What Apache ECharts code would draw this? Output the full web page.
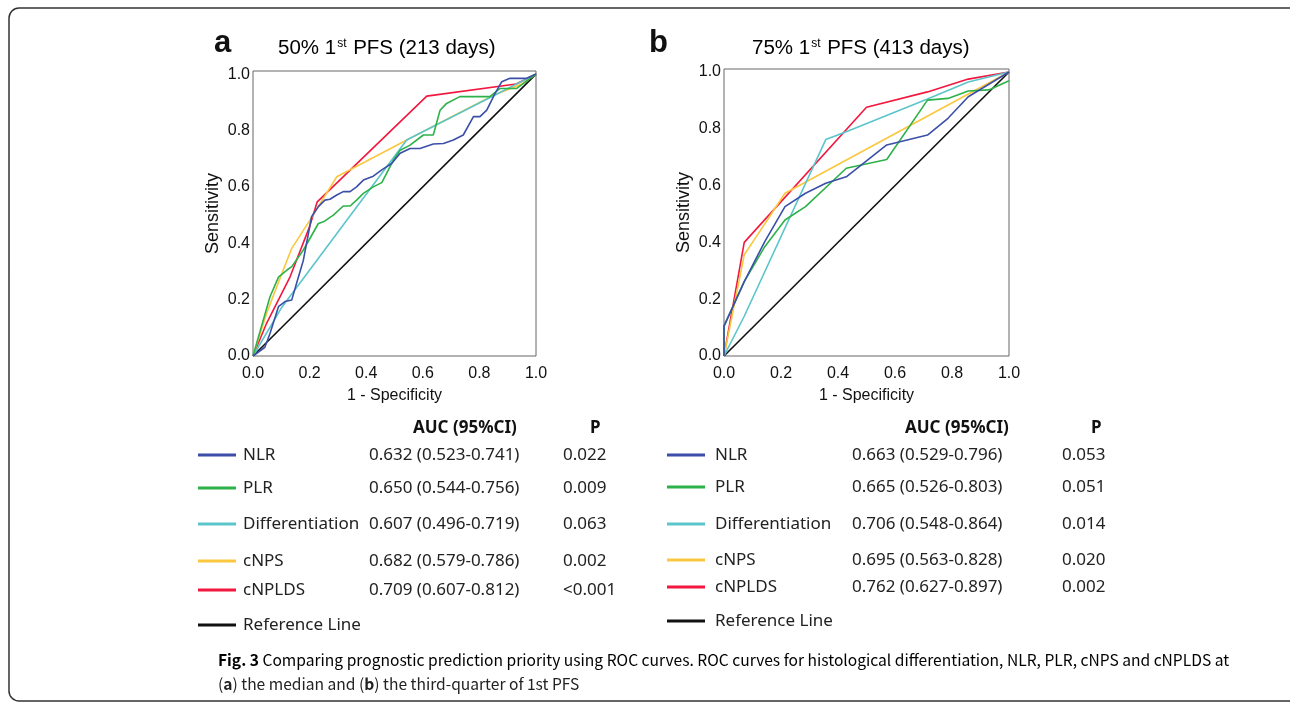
<!DOCTYPE html>
<html><head><meta charset="utf-8">
<script src="https://cdn.jsdelivr.net/npm/echarts@6/dist/echarts.min.js"></script>
<style>html,body{margin:0;padding:0;background:#fff}#c{width:1290px;height:702px}</style>
</head><body><div id="c"></div>
<script>
// ---------- data ----------
const seriesNames = ['NLR', 'PLR', 'Differentiation', 'cNPS', 'cNPLDS', 'Reference Line'];
const seriesColors = ['#3B4FA8', '#2DB24A', '#5BC5CB', '#FAC73E', '#F2173F', '#111111'];
const axisTicks = [0, 0.2, 0.4, 0.6, 0.8, 1.0];

// Panel a: 50% 1st PFS (213 days)
const aNLR = [[0,0],[0.042,0.031],[0.06,0.08],[0.09,0.175],[0.113,0.193],[0.137,0.199],[0.154,0.258],[0.178,0.34],[0.207,0.494],[0.231,0.53],[0.254,0.553],[0.272,0.556],[0.296,0.571],[0.319,0.583],[0.343,0.583],[0.366,0.6],[0.39,0.624],[0.425,0.638],[0.455,0.66],[0.49,0.683],[0.52,0.719],[0.555,0.736],[0.59,0.736],[0.637,0.752],[0.673,0.754],[0.708,0.766],[0.743,0.784],[0.779,0.849],[0.802,0.849],[0.826,0.872],[0.855,0.931],[0.879,0.973],[0.908,0.985],[0.967,0.985],[1,1]];
const aPLR = [[0,0],[0.06,0.21],[0.09,0.28],[0.12,0.305],[0.137,0.317],[0.178,0.376],[0.231,0.47],[0.249,0.476],[0.284,0.5],[0.319,0.532],[0.343,0.532],[0.366,0.553],[0.39,0.577],[0.425,0.6],[0.455,0.615],[0.472,0.648],[0.496,0.695],[0.52,0.73],[0.555,0.748],[0.602,0.784],[0.637,0.784],[0.661,0.872],[0.684,0.896],[0.731,0.92],[0.837,0.92],[0.873,0.949],[0.932,0.949],[1,1]];
const aDiff = [[0,0],[0.1,0.17],[0.543,0.766],[0.85,0.923],[1,1]];
const aNPS = [[0,0],[0.048,0.151],[0.084,0.246],[0.137,0.382],[0.2,0.48],[0.296,0.636],[0.55,0.77],[0.85,0.925],[0.95,0.965],[1,1]];
const aNPLDS = [[0,0],[0.048,0.116],[0.131,0.281],[0.2,0.459],[0.227,0.547],[0.614,0.922],[0.93,0.965],[1,1]];
const aRef = [[0,0],[1,1]];

// Panel b: 75% 1st PFS (413 days)
const bNLR = [[0,0],[0,0.105],[0.071,0.262],[0.143,0.403],[0.214,0.526],[0.286,0.573],[0.357,0.608],[0.429,0.631],[0.571,0.743],[0.714,0.778],[0.786,0.837],[0.857,0.913],[1,1]];
const bPLR = [[0,0],[0,0.105],[0.071,0.262],[0.143,0.385],[0.214,0.479],[0.286,0.526],[0.429,0.661],[0.571,0.692],[0.714,0.901],[0.786,0.907],[0.857,0.933],[0.929,0.937],[1,0.969]];
const bDiff = [[0,0],[0.071,0.14],[0.357,0.762],[0.429,0.79],[0.714,0.905],[0.857,0.965],[1,1]];
const bNPS = [[0,0],[0.071,0.356],[0.214,0.573],[1,1]];
const bNPLDS = [[0,0],[0.071,0.4],[0.5,0.876],[0.714,0.93],[0.857,0.975],[1,1]];
const bRef = [[0,0],[1,1]];

// table text
const aucA = ['0.632 (0.523-0.741)', '0.650 (0.544-0.756)', '0.607 (0.496-0.719)', '0.682 (0.579-0.786)', '0.709 (0.607-0.812)'];
const pA = ['0.022', '0.009', '0.063', '0.002', '<0.001'];
const aucB = ['0.663 (0.529-0.796)', '0.665 (0.526-0.803)', '0.706 (0.548-0.864)', '0.695 (0.563-0.828)', '0.762 (0.627-0.897)'];
const pB = ['0.053', '0.051', '0.014', '0.020', '0.002'];
const panelTitles = ['50% 1', ' PFS (213 days)', '75% 1', ' PFS (413 days)'];
const captionBold = 'Fig. 3';
const captionLine1 = ' Comparing prognostic prediction priority using ROC curves. ROC curves for histological differentiation, NLR, PLR, cNPS and cNPLDS at';

// ---------- chart ----------
const chart = echarts.init(document.getElementById('c'), null, {renderer: 'canvas'});
const axisFont = 'Liberation Sans, Arial, sans-serif';
const tableFont = 'Noto Sans, sans-serif';

function xAxisCfg(gi) {
  return {
    type: 'value', gridIndex: gi, min: 0, max: 1, interval: 0.2,
    axisLine: {show: false}, axisTick: {show: false}, splitLine: {show: false},
    axisLabel: {fontFamily: axisFont, fontSize: 16, color: '#111', margin: 10,
      formatter: v => v.toFixed(1)},
    name: '1 - Specificity', nameLocation: 'middle', nameGap: 32,
    nameTextStyle: {fontFamily: axisFont, fontSize: 16, color: '#111'}
  };
}
function yAxisCfg(gi, max) {
  return {
    type: 'value', gridIndex: gi, min: 0, max: max, interval: 0.2,
    axisLine: {show: false}, axisTick: {show: false}, splitLine: {show: false},
    axisLabel: {fontFamily: axisFont, fontSize: 16, color: '#111', margin: 3,
      formatter: v => axisTicks.some(t => Math.abs(t - v) < 1e-6) ? v.toFixed(1) : ''},
    name: 'Sensitivity', nameLocation: 'middle', nameGap: 31,
    nameTextStyle: {fontFamily: axisFont, fontSize: 18, color: '#111'}
  };
}

const panelA = [aNLR, aPLR, aDiff, aNPS, aNPLDS, aRef];
const panelB = [bNLR, bPLR, bDiff, bNPS, bNPLDS, bRef];
const series = [];
[panelA, panelB].forEach((panel, gi) => {
  panel.forEach((d, i) => {
    series.push({
      type: 'line', xAxisIndex: gi, yAxisIndex: gi, data: d, name: seriesNames[i],
      showSymbol: false, symbol: 'none', silent: true, animation: false,
      lineStyle: {color: seriesColors[i], width: 1.6}, z: 10 - i
    });
  });
});

// graphics: frame, titles, tables, caption
const g = [];
g.push({type: 'rect', shape: {x: 9, y: 8, width: 1290, height: 693, r: 10},
  style: {fill: 'none', stroke: '#333', lineWidth: 1.5}, silent: true});

function title(letter, lx, tx, t1, t2) {
  g.push({type: 'text', x: lx, y: 43, style: {text: letter, font: 'bold 31px Liberation Sans, Arial', fill: '#111', textVerticalAlign: 'middle'}});
  g.push({type: 'text', x: tx, y: 48, style: {
    text: '{n|' + t1 + '}{s|st}{n|' + t2 + '}', textVerticalAlign: 'middle',
    rich: {n: {fontFamily: axisFont, fontSize: 20.5, color: '#111'},
           s: {fontFamily: axisFont, fontSize: 12, color: '#111', padding: [0, 1, 9, 1]}}
  }});
}
title('a', 214, 278, panelTitles[0], panelTitles[1]);
title('b', 649, 752, panelTitles[2], panelTitles[3]);

function table(cfg) {
  g.push({type: 'text', x: cfg.aucHeadX, y: 428, style: {text: 'AUC (95%CI)', font: 'bold 17px ' + tableFont, fill: '#111', textVerticalAlign: 'middle'}});
  g.push({type: 'text', x: cfg.pHeadX, y: 428, style: {text: 'P', font: 'bold 17px ' + tableFont, fill: '#111', textVerticalAlign: 'middle'}});
  seriesNames.forEach((nm, i) => {
    const y = cfg.rows[i];
    g.push({type: 'line', shape: {x1: cfg.lineX, y1: y, x2: cfg.lineX + 38, y2: y},
      style: {stroke: seriesColors[i], lineWidth: 3}});
    g.push({type: 'text', x: cfg.labelX, y: y, style: {text: nm, font: '17px ' + tableFont, fill: '#222', textVerticalAlign: 'middle'}});
    if (i < 5) {
      g.push({type: 'text', x: cfg.aucX, y: y, style: {text: cfg.auc[i], font: '17px ' + tableFont, fill: '#222', textVerticalAlign: 'middle'}});
      g.push({type: 'text', x: cfg.pX, y: y, style: {text: cfg.p[i], font: '17px ' + tableFont, fill: '#222', textVerticalAlign: 'middle'}});
    }
  });
}
table({aucHeadX: 413, pHeadX: 590, rows: [455, 488, 524, 561, 590, 625], lineX: 198, labelX: 243, aucX: 369, pX: 563, auc: aucA, p: pA});
table({aucHeadX: 905, pHeadX: 1091, rows: [455, 487, 524, 560, 587, 621], lineX: 667, labelX: 715, aucX: 852, pX: 1062, auc: aucB, p: pB});

const capFont = 'Noto Sans CJK SC, sans-serif';
const capSize = 15.6;
g.push({type: 'text', x: 218, y: 660, style: {
  text: '{b|' + captionBold + '}{r|' + captionLine1 + '}', textVerticalAlign: 'middle',
  rich: {b: {fontFamily: capFont, fontWeight: 'bold', fontSize: capSize, color: '#222'},
         r: {fontFamily: capFont, fontSize: capSize, color: '#222'}}}});
g.push({type: 'text', x: 218, y: 684, style: {
  text: '({b|a}) the median and ({b|b}) the third-quarter of 1st PFS', textVerticalAlign: 'middle',
  fontFamily: capFont, fontSize: capSize, fill: '#222',
  rich: {b: {fontFamily: capFont, fontWeight: 'bold', fontSize: capSize, color: '#222'}}}});

chart.setOption({
  backgroundColor: '#fff',
  animation: false,
  grid: [
    {left: 253, top: 71, width: 283, height: 285, show: true, borderColor: '#666', borderWidth: 1, backgroundColor: 'transparent'},
    {left: 724, top: 69, width: 285, height: 287, show: true, borderColor: '#666', borderWidth: 1, backgroundColor: 'transparent'}
  ],
  xAxis: [xAxisCfg(0), xAxisCfg(1)],
  yAxis: [yAxisCfg(0, 1.011), yAxisCfg(1, 1.0106)],
  series: series,
  graphic: g
});
</script></body></html>
